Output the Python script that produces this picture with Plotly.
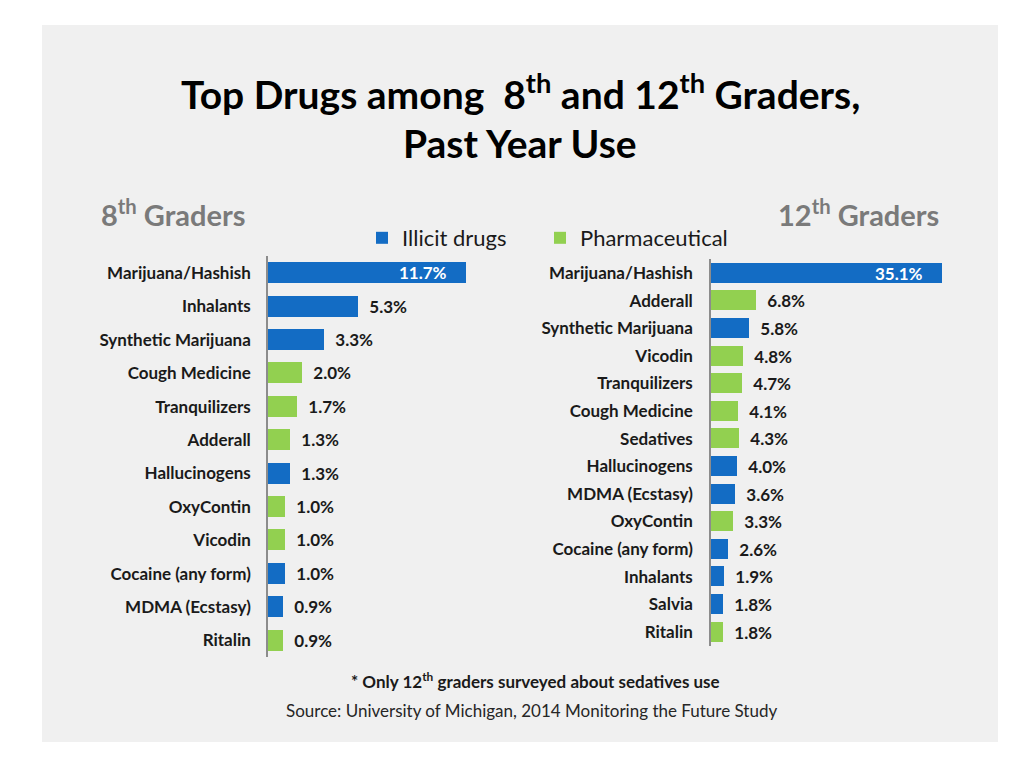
import plotly.graph_objects as go

# ---------------- data ----------------
g8_drugs = ["Marijuana/Hashish", "Inhalants", "Synthetic Marijuana", "Cough Medicine",
            "Tranquilizers", "Adderall", "Hallucinogens", "OxyContin", "Vicodin",
            "Cocaine (any form)", "MDMA (Ecstasy)", "Ritalin"]
g8_values = [11.7, 5.3, 3.3, 2.0, 1.7, 1.3, 1.3, 1.0, 1.0, 1.0, 0.9, 0.9]
g8_type = ["Illicit", "Illicit", "Illicit", "Pharma", "Pharma", "Pharma", "Illicit",
           "Pharma", "Pharma", "Illicit", "Illicit", "Pharma"]

g12_drugs = ["Marijuana/Hashish", "Adderall", "Synthetic Marijuana", "Vicodin",
             "Tranquilizers", "Cough Medicine", "Sedatives", "Hallucinogens",
             "MDMA (Ecstasy)", "OxyContin", "Cocaine (any form)", "Inhalants",
             "Salvia", "Ritalin"]
g12_values = [35.1, 6.8, 5.8, 4.8, 4.7, 4.1, 4.3, 4.0, 3.6, 3.3, 2.6, 1.9, 1.8, 1.8]
g12_type = ["Illicit", "Pharma", "Illicit", "Pharma", "Pharma", "Pharma", "Pharma",
            "Illicit", "Illicit", "Pharma", "Illicit", "Illicit", "Illicit", "Pharma"]

legend_names = {"Illicit": "Illicit drugs", "Pharma": "Pharmaceutical"}
legend_ids = {"Illicit": "legend", "Pharma": "legend2"}
colors = {"Illicit": "#136cc4", "Pharma": "#92d050"}

# page body has an 8px margin; work in reference-screen pixels
OFF = 8
W, H = 1024 - 2 * OFF, 768 - 2 * OFF
FONT = "Lato"
NB = "\u00a0"


def px_x(p):
    return (p - OFF) / W


def px_y(p):
    return 1 - (p - OFF) / H


fig = go.Figure()

BAR_FONT = 17


def add_panel(drugs, values, types, xa, ya, width, show_legend):
    top = max(values)
    for t in ["Illicit", "Pharma"]:
        ys, xs, texts, pos = [], [], [], []
        for d, v, tt in zip(drugs, values, types):
            if tt != t:
                continue
            ys.append(d)
            xs.append(v)
            if v == top:
                texts.append(f"{v:.1f}%" + NB * 4)
                pos.append("inside")
            else:
                texts.append(NB * 2 + f"{v:.1f}%")
                pos.append("outside")
        fig.add_trace(go.Bar(
            x=xs, y=ys, orientation="h", name=legend_names[t],
            marker=dict(color=colors[t], line=dict(width=0)),
            width=width, text=texts, textposition=pos,
            insidetextanchor="end", constraintext="none", cliponaxis=False,
            textfont=dict(family=FONT, size=BAR_FONT, weight="bold"),
            insidetextfont=dict(family=FONT, size=BAR_FONT, weight="bold", color="white"),
            outsidetextfont=dict(family=FONT, size=BAR_FONT, weight="bold", color="#1a1a1a"),
            xaxis=xa, yaxis=ya, showlegend=show_legend, legendgroup=t,
            legend=legend_ids[t], hoverinfo="skip",
        ))


add_panel(g8_drugs, g8_values, g8_type, "x", "y", 0.63, True)
add_panel(g12_drugs, g12_values, g12_type, "x2", "y2", 0.72, False)

# axis geometry (pixel based)
left_axis_x, left_px_per_pct = 268, 198 / 11.7
right_axis_x, right_px_per_pct = 711, 231 / 35.1
left_end, right_end = 520, 975

n8, n12 = len(g8_drugs), len(g12_drugs)
l_top, l_step = 273 - 33.4 / 2, 33.4
r_top, r_step = 273 - 27.6 / 2, 27.6

tickfont = dict(family=FONT, size=17, color="#1a1a1a", weight="bold")
legfont = dict(family=FONT, size=22, color="#1a1a1a")

fig.update_layout(
    width=W, height=H,
    margin=dict(l=0, r=0, t=0, b=0),
    paper_bgcolor="white", plot_bgcolor="rgba(0,0,0,0)",
    barmode="overlay", bargap=0,
    font=dict(family=FONT, color="#1a1a1a"),
    xaxis=dict(domain=[px_x(left_axis_x), px_x(left_end)],
               range=[0, (left_end - left_axis_x) / left_px_per_pct],
               visible=False, fixedrange=True),
    yaxis=dict(domain=[px_y(l_top + n8 * l_step), px_y(l_top)],
               type="category", categoryorder="array", categoryarray=g8_drugs,
               range=[n8 - 0.5, -0.5], showline=True, linecolor="#8c8c8c",
               linewidth=1.5, showgrid=False, zeroline=False, ticks="",
               ticklabelstandoff=12, tickfont=tickfont, anchor="x"),
    xaxis2=dict(domain=[px_x(right_axis_x), px_x(right_end)],
                range=[0, (right_end - right_axis_x) / right_px_per_pct],
                visible=False, fixedrange=True),
    yaxis2=dict(domain=[px_y(r_top + n12 * r_step), px_y(r_top)],
                type="category", categoryorder="array", categoryarray=g12_drugs,
                range=[n12 - 0.5, -0.5], showline=True, linecolor="#8c8c8c",
                linewidth=1.5, showgrid=False, zeroline=False, ticks="",
                ticklabelstandoff=13, tickfont=tickfont, anchor="x2"),
    legend=dict(orientation="h", x=px_x(362), y=px_y(217), xanchor="left",
                yanchor="top", bgcolor="rgba(0,0,0,0)", font=legfont),
    legend2=dict(orientation="h", x=px_x(540), y=px_y(217), xanchor="left",
                 yanchor="top", bgcolor="rgba(0,0,0,0)", font=legfont),
    showlegend=True,
)

# grey panel
fig.add_shape(type="rect", xref="paper", yref="paper",
              x0=px_x(42), x1=px_x(998), y0=px_y(742), y1=px_y(25),
              fillcolor="#f0f0f0", line=dict(width=0), layer="below")

title_font = dict(family=FONT, size=39, color="#000000", weight="bold")
annos = [
    dict(text="Top Drugs among  8<sup>th</sup> and 12<sup>th</sup> Graders,",
         x=px_x(520), y=px_y(92), xanchor="center", yanchor="middle", font=title_font),
    dict(text="Past Year Use",
         x=px_x(520), y=px_y(143), xanchor="center", yanchor="middle", font=title_font),
    dict(text="8<sup>th</sup> Graders", x=px_x(99), y=px_y(213), xanchor="left",
         yanchor="middle", font=dict(family=FONT, size=29, color="#7a7a7a", weight="bold")),
    dict(text="12<sup>th</sup> Graders", x=px_x(941), y=px_y(213), xanchor="right",
         yanchor="middle", font=dict(family=FONT, size=29, color="#7a7a7a", weight="bold")),
    dict(text="* Only 12<sup>th</sup> graders surveyed about sedatives use",
         x=px_x(535), y=px_y(680), xanchor="center", yanchor="middle",
         font=dict(family=FONT, size=17, color="#1a1a1a", weight="bold")),
    dict(text="Source: University of Michigan, 2014 Monitoring the Future Study",
         x=px_x(531), y=px_y(710), xanchor="center", yanchor="middle",
         font=dict(family=FONT, size=17, color="#262626")),
]
for a in annos:
    fig.add_annotation(xref="paper", yref="paper", showarrow=False, **a)

fig.write_html("out.html")
